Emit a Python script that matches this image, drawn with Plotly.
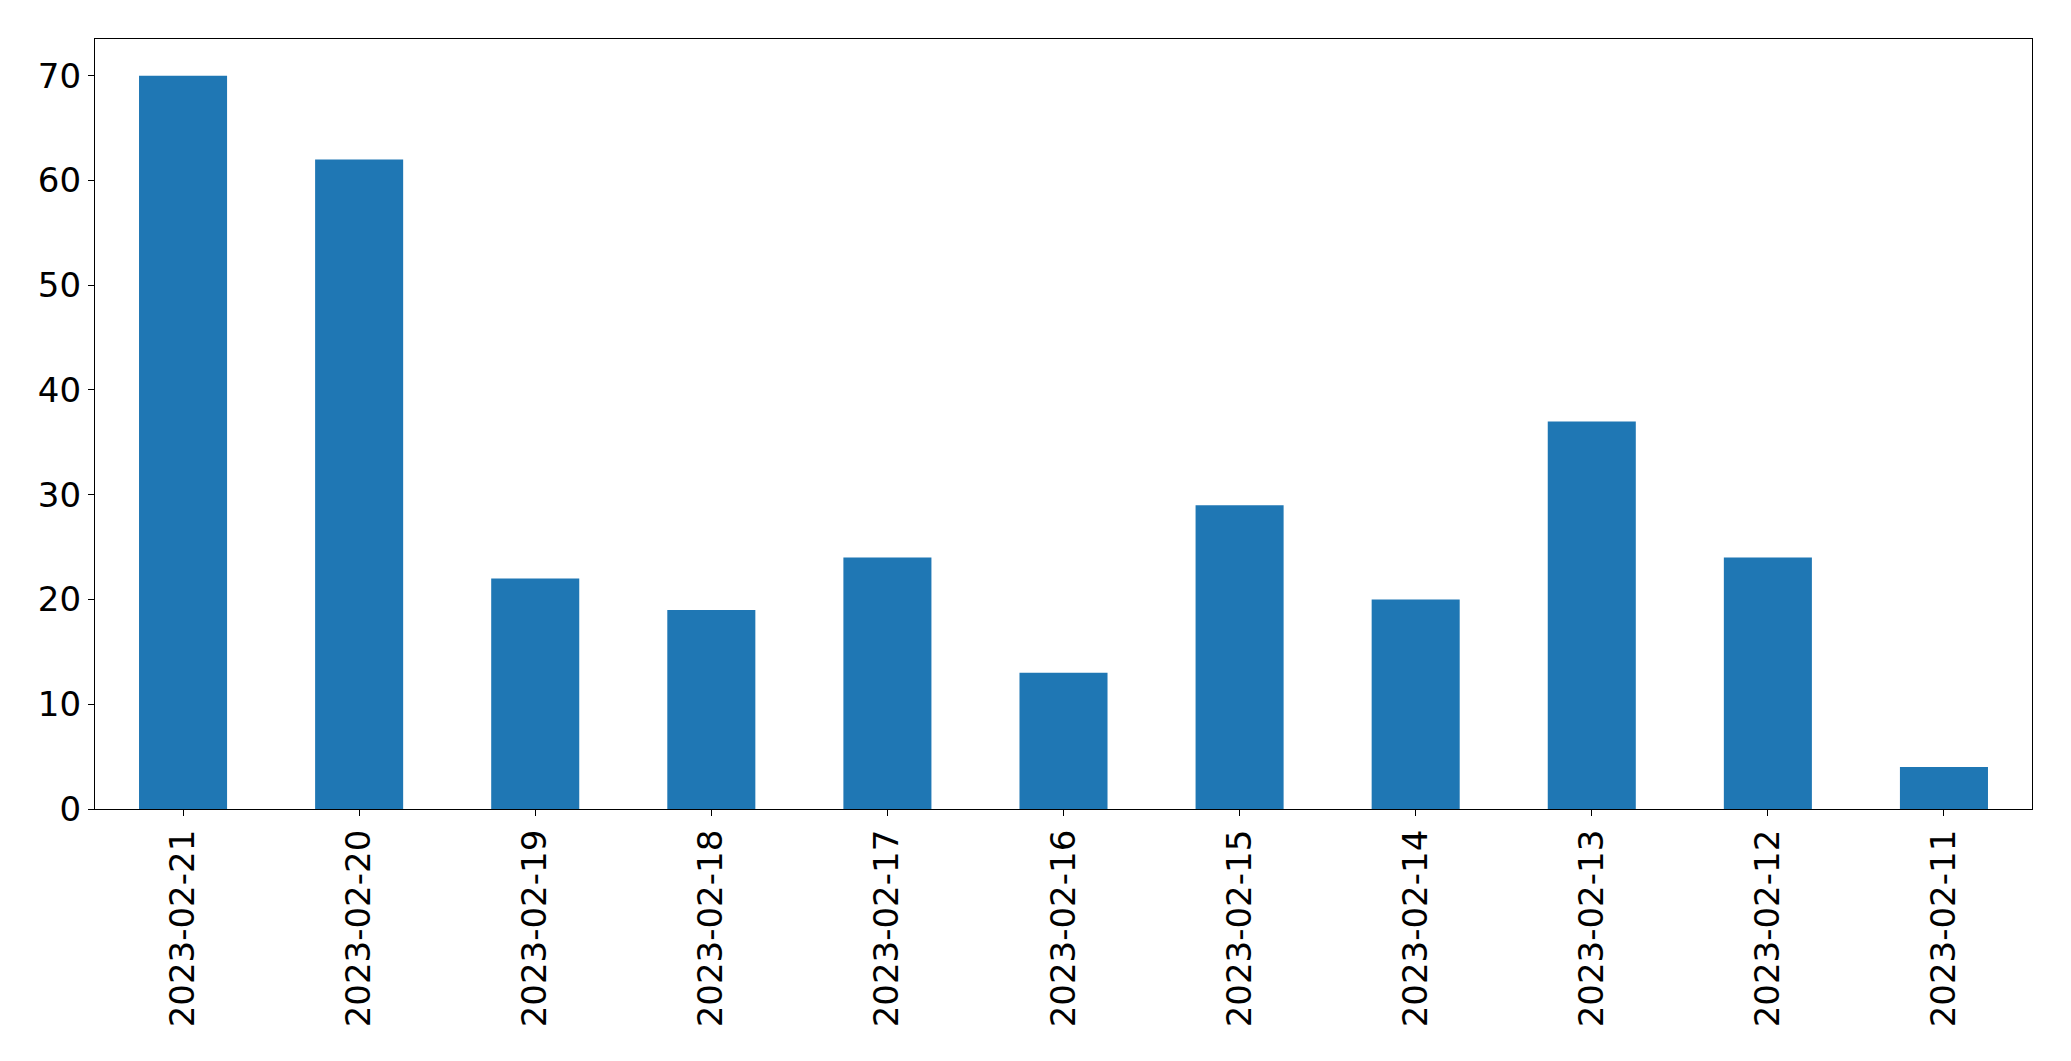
import plotly.graph_objects as go

dates = ["2023-02-21", "2023-02-20", "2023-02-19", "2023-02-18", "2023-02-17",
         "2023-02-16", "2023-02-15", "2023-02-14", "2023-02-13", "2023-02-12", "2023-02-11"]
counts = [70, 62, 22, 19, 24, 13, 29, 20, 37, 24, 4]
y_ticks = [0, 10, 20, 30, 40, 50, 60, 70]

fig = go.Figure(go.Bar(x=dates, y=counts, marker=dict(color="#1f77b4", line=dict(width=0))))

font = dict(family="DejaVu Sans", size=34, color="black")
# page body has an 8px default margin, so the figure is sized to fit the window
fig.update_layout(
    width=2063, height=1053,
    margin=dict(l=86.5, r=39.3, t=31.3, b=251.7, autoexpand=False),
    paper_bgcolor="white", plot_bgcolor="white",
    bargap=0.5, showlegend=False,
    font=font,
)
fig.update_xaxes(
    type="category", tickangle=-90, tickfont=font,
    range=[-0.5, len(dates) - 0.5],
    showline=True, mirror=True, linecolor="black", linewidth=1.3,
    ticks="outside", ticklen=6, tickwidth=1.3, tickcolor="black",
    showgrid=False, zeroline=False,
)
fig.update_yaxes(
    range=[0, 73.5], tickvals=y_ticks, tickfont=font,
    showline=True, mirror=True, linecolor="black", linewidth=1.3,
    ticks="outside", ticklen=6, tickwidth=1.3, tickcolor="black",
    showgrid=False, zeroline=False,
)
fig.write_html("out.html")
